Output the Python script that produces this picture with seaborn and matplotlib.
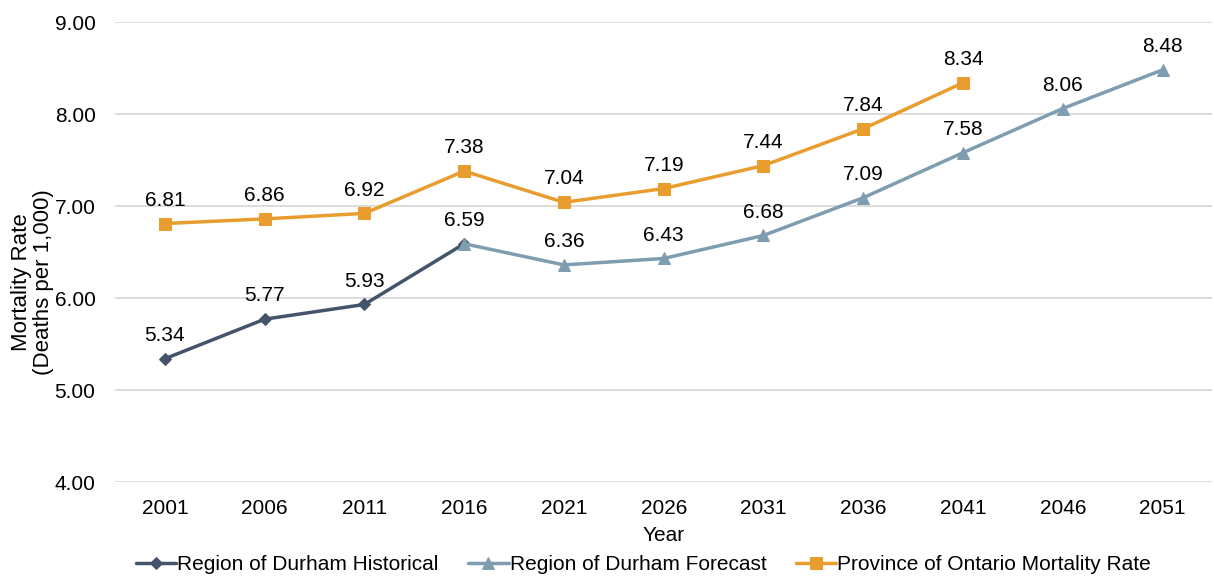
import pandas as pd
import numpy as np
from matplotlib import pyplot as plt
import seaborn as sns

years = ['2001', '2006', '2011', '2016', '2021', '2026', '2031', '2036', '2041', '2046', '2051']
historical = [5.34, 5.77, 5.93, 6.59]
forecast = [6.59, 6.36, 6.43, 6.68, 7.09, 7.58, 8.06, 8.48]
ontario = [6.81, 6.86, 6.92, 7.38, 7.04, 7.19, 7.44, 7.84, 8.34]

names = ['Region of Durham Historical', 'Region of Durham Forecast', 'Province of Ontario Mortality Rate']
colors = ['#44546A', '#7E9DB1', '#E99D2E']
markers = ['D', '^', 's']
msizes = [6, 9, 8.5]

# x positions (index into years)
hist_x = list(range(0, 4))
fore_x = list(range(3, 11))
ont_x = list(range(0, 9))

sns.set_style('white')
plt.rcParams['font.family'] = ['Liberation Sans', 'DejaVu Sans']
plt.rcParams['text.color'] = 'black'
plt.rcParams['axes.labelcolor'] = 'black'
plt.rcParams['xtick.color'] = 'black'
plt.rcParams['ytick.color'] = 'black'

fig = plt.figure(figsize=(12.14, 5.77), dpi=100)
ax = fig.add_axes([0.0947, 0.1646, 0.904, 0.7972])

series = [(hist_x, historical), (fore_x, forecast), (ont_x, ontario)]
for (xs, ys), name, c, m, ms in zip(series, names, colors, markers, msizes):
    df = pd.DataFrame({'x': xs, 'y': ys})
    sns.lineplot(data=df, x='x', y='y', ax=ax, color=c, marker=m, markersize=ms,
                 markeredgecolor=c, linewidth=2.5, label=name, legend=False)

# value labels (2016 forecast shares the historical label)
for xs, ys in [(hist_x, historical), (fore_x[1:], forecast[1:]), (ont_x, ontario)]:
    for x, y in zip(xs, ys):
        ax.annotate(f'{y:.2f}', (x, y), xytext=(0, 10), textcoords='offset points',
                    ha='center', va='bottom', fontsize=15, color='black')

ax.set_xlim(-0.5, 10.5)
ax.set_ylim(4, 9)
ax.set_xticks(range(len(years)))
ax.set_xticklabels(years, fontsize=15)
ax.set_yticks(np.arange(4, 9.01, 1))
ax.set_yticklabels([f'{v:.2f}' for v in np.arange(4, 9.01, 1)], fontsize=15)
ax.tick_params(axis='x', pad=12, length=0)
ax.tick_params(axis='y', pad=14, length=0)
ax.grid(axis='y', color='#D9D9D9', linewidth=1.3)
ax.set_axisbelow(True)
for s in ax.spines.values():
    s.set_visible(False)

ax.set_xlabel('Year', fontsize=15, labelpad=6)
ax.set_ylabel('Mortality Rate\n(Deaths per 1,000)', fontsize=16, labelpad=1, linespacing=1.05)
ax.yaxis.set_label_coords(-0.056, 0.435)

handles, labels = ax.get_legend_handles_labels()
fig.legend(handles, labels, loc='center', bbox_to_anchor=(0.530, 0.022), ncol=3, frameon=False,
           fontsize=15, handlelength=1.95, handletextpad=0.05, columnspacing=1.4)

plt.savefig('out.png', dpi=100)
